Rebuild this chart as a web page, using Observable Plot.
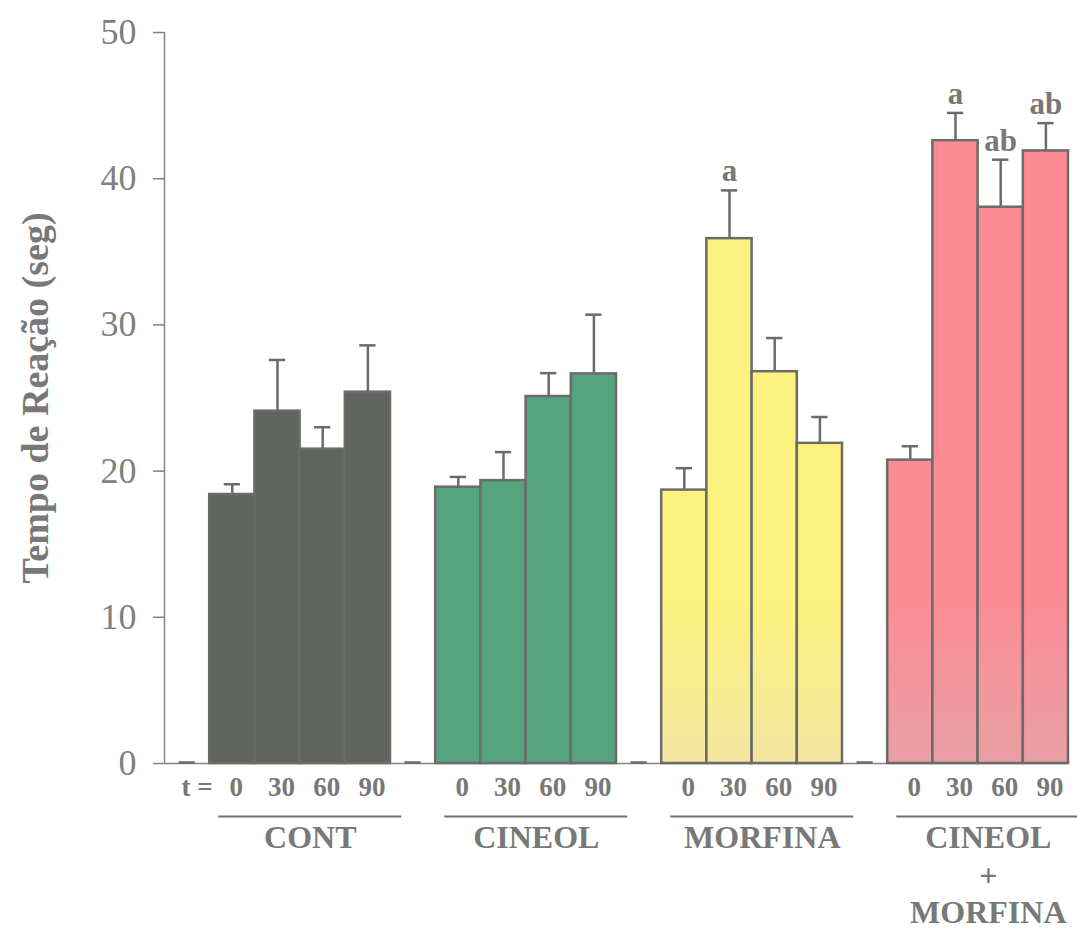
<!DOCTYPE html>
<html>
<head>
<meta charset="utf-8">
<script src="https://cdn.jsdelivr.net/npm/d3@7"></script>
<script src="https://cdn.jsdelivr.net/npm/@observablehq/plot@0.6"></script>
<style>
  html, body { margin: 0; padding: 0; background: #fff; }
</style>
</head>
<body>
<div id="chart"></div>
<script>
// ---- data ----
const groups = ["CONT", "CINEOL", "MORFINA", "CINEOL\n+\nMORFINA"];
const times = ["0", "30", "60", "90"];
const contMean    = [18.4, 24.1, 21.5, 25.4];
const contErr     = [0.7, 3.5, 1.5, 3.2];
const cineolMean  = [18.9, 19.35, 25.1, 26.65];
const cineolErr   = [0.7, 1.95, 1.6, 4.05];
const morfinaMean = [18.7, 35.9, 26.8, 21.9];
const morfinaErr  = [1.5, 3.3, 2.3, 1.8];
const cmMean      = [20.75, 42.6, 38.05, 41.9];
const cmErr       = [0.95, 1.9, 3.25, 1.9];
const morfinaLetters = ["", "a", "", ""];
const cmLetters      = ["", "a", "ab", "ab"];
const yTicks = [0, 10, 20, 30, 40, 50];
const yLabel = "Tempo de Reação (seg)";
const tLabel = "t =";

const means = [contMean, cineolMean, morfinaMean, cmMean];
const errs = [contErr, cineolErr, morfinaErr, cmErr];
const letters = [["", "", "", ""], ["", "", "", ""], morfinaLetters, cmLetters];

// build table: each group = one empty slot + 4 bars
const rows = [];
const gaps = [];
groups.forEach((g, gi) => {
  const start = gi * 5;
  gaps.push({group: g, slot: start, start});
  times.forEach((t, ti) => {
    rows.push({
      group: g, time: t, slot: start + 1 + ti,
      mean: means[gi][ti], err: errs[gi][ti], letter: letters[gi][ti]
    });
  });
});

const grey = "#6d6b68";
const textGrey = "#787878";

const svg = Plot.plot({
  width: 1077,
  height: 931,
  marginLeft: 164,
  marginRight: 9,
  marginTop: 32,
  marginBottom: 168,
  x: {domain: [0, 20], axis: null},
  y: {domain: [0, 50], axis: null},
  color: {domain: groups, range: ["#60665f", "#55a47e", "url(#gYellow)", "url(#gPink)"]},
  style: {background: "#fff", fontFamily: "'Liberation Serif', 'Times New Roman', serif", overflow: "visible"},
  marks: [
    Plot.axisY({ticks: yTicks, tickSize: 11, tickPadding: 17, fontSize: 36, color: "#808080", strokeWidth: 1.5, label: null}),
    Plot.ruleX([0], {y1: 0, y2: 50, stroke: "#858585", strokeWidth: 1.5}),
    Plot.ruleY([0], {stroke: "#858585", strokeWidth: 1.5}),
    Plot.rectY(rows, {x1: "slot", x2: d => d.slot + 1, y1: 0, y2: "mean", fill: "group", stroke: grey, strokeWidth: 2.5}),
    Plot.ruleX(rows, {x: d => d.slot + 0.5, y1: "mean", y2: d => d.mean + d.err, stroke: grey, strokeWidth: 2.5}),
    Plot.ruleY(rows, {y: d => d.mean + d.err, x1: d => d.slot + 0.32, x2: d => d.slot + 0.68, stroke: grey, strokeWidth: 2.5}),
    Plot.ruleY(gaps, {y: 0, x1: d => d.slot + 0.32, x2: d => d.slot + 0.68, stroke: grey, strokeWidth: 2.5, dy: -1}),
    Plot.text(rows.filter(d => d.letter), {x: d => d.slot + 0.5, y: d => d.mean + d.err, text: "letter", dy: -19, fontSize: 31, fontWeight: "bold", fill: textGrey}),
    Plot.text(rows, {x: d => d.slot + 0.5, y: 0, text: "time", dy: 24, dx: 4, fontSize: 27, fontWeight: "bold", fill: textGrey}),
    Plot.text(gaps.slice(0, 1), {x: d => d.slot + 0.5, y: 0, text: () => tLabel, dy: 24, dx: 10, fontSize: 27, fontWeight: "bold", fill: textGrey}),
    Plot.ruleY(gaps, {y: 0, x1: d => d.start + 1.2, x2: d => d.start + 5.25, dy: 53, stroke: "#707070", strokeWidth: 2}),
    Plot.text(gaps, {x: d => d.start + 3.225, y: 0, text: "group", dy: 58, lineAnchor: "top", lineHeight: 1.17, fontSize: 32, fontWeight: "bold", fill: textGrey}),
    Plot.text([yLabel], {frameAnchor: "left", textAnchor: "middle", dx: -129, rotate: -90, fontSize: 38, fontWeight: "bold", fill: textGrey})
  ]
});

// gradients (lighter toward the base for yellow and pink bars)
const defs = d3.select(svg).insert("defs", ":first-child");
function grad(id, top, bottom) {
  const g = defs.append("linearGradient").attr("id", id)
    .attr("gradientUnits", "userSpaceOnUse")
    .attr("x1", 0).attr("x2", 0).attr("y1", 600).attr("y2", 763);
  g.append("stop").attr("offset", 0).attr("stop-color", top);
  g.append("stop").attr("offset", 1).attr("stop-color", bottom);
}
grad("gYellow", "#fcf27f", "#f3e6a0");
grad("gPink", "#fc8b94", "#e8a0a4");

document.getElementById("chart").appendChild(svg);
</script>
</body>
</html>
